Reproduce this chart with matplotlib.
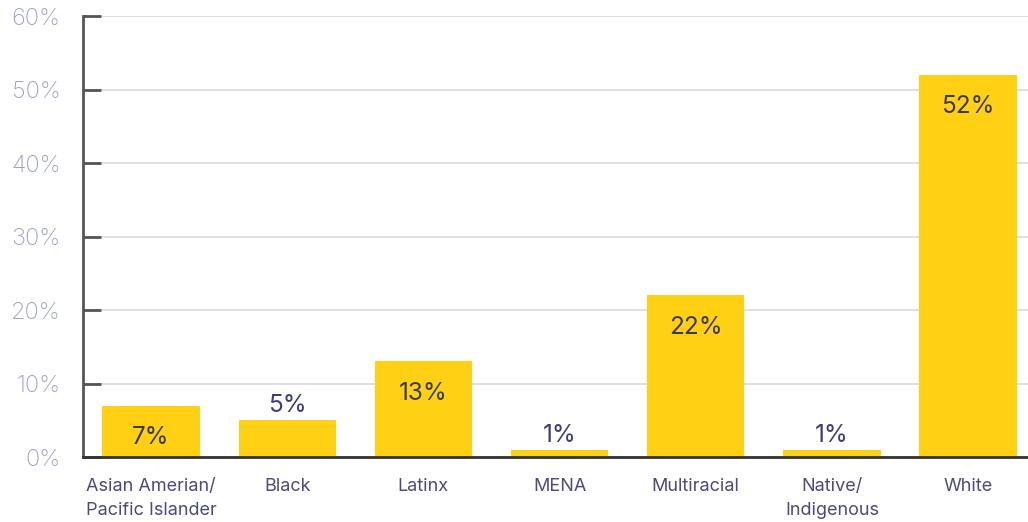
import numpy as np
import matplotlib.pyplot as plt

# Share of respondents by race / ethnicity
categories = ['Asian Amerian/\nPacific Islander', 'Black', 'Latinx', 'MENA',
              'Multiracial', 'Native/\nIndigenous', 'White']
shares = [7, 5, 13, 1, 22, 1, 52]
yticks = [0, 10, 20, 30, 40, 50, 60]

bar_color = '#ffd014'
tick_color = '#9ca2c6'
label_color = '#4b4b7c'

plt.rcParams['font.family'] = ['Inter', 'DejaVu Sans']

fig = plt.figure(figsize=(10.28, 5.22), dpi=100)
ax = fig.add_axes([0.0807, 0.1245, 0.9193, 0.8448])

x = np.arange(len(categories))
ax.bar(x, shares, width=0.715, color=bar_color, zorder=3)

ax.set_ylim(0, 60)
ax.set_xlim(-0.5, 6.44)
ax.set_yticks(yticks)
ax.set_yticklabels([f'{v}%' for v in yticks], color=tick_color,
                   fontsize=17, fontweight='light')
ax.set_xticks(x)
ax.set_xticklabels(categories, color=label_color, fontsize=13,
                   linespacing=1.55, va='top')

ax.grid(axis='y', color='#dddddd', linewidth=1.3, zorder=0)
ax.tick_params(axis='y', direction='in', length=13, width=2,
               color='#555555', pad=16)
ax.tick_params(axis='x', length=0, pad=15)

for side in ['top', 'right']:
    ax.spines[side].set_visible(False)
ax.spines['left'].set_color('#555555')
ax.spines['left'].set_linewidth(2)
ax.spines['left'].set_zorder(4)
ax.spines['bottom'].set_color('#333333')
ax.spines['bottom'].set_linewidth(2)
ax.spines['bottom'].set_zorder(4)

# Value labels: inside the bar when it is tall enough, above it otherwise
for xi, v in zip(x, shares):
    if v >= 7:
        ax.annotate(f'{v}%', (xi, v), xytext=(0, -23), textcoords='offset points',
                    ha='center', va='center', fontsize=17.5, color='#3a3a4e', zorder=5)
    else:
        ax.annotate(f'{v}%', (xi, v), xytext=(0, 10.5), textcoords='offset points',
                    ha='center', va='center', fontsize=17.5, color='#3d3d7a', zorder=5)

fig.savefig('out.png', dpi=100)
